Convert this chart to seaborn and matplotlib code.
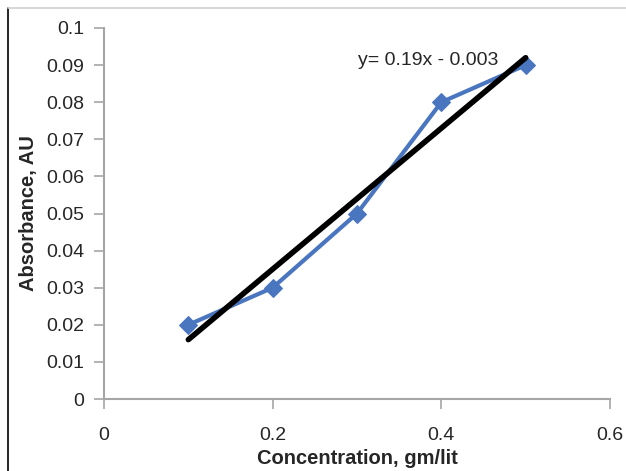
import matplotlib
matplotlib.use("Agg")
import matplotlib.pyplot as plt
import seaborn as sns
import numpy as np
import pandas as pd
from matplotlib.lines import Line2D

concentration = [0.1, 0.2, 0.3, 0.4, 0.5]
absorbance = [0.02, 0.03, 0.05, 0.08, 0.09]
slope = 0.19
intercept = -0.003
equation_label = "y= 0.19x - 0.003"
x_ticks = [0, 0.2, 0.4, 0.6]
y_ticks = [0, 0.01, 0.02, 0.03, 0.04, 0.05, 0.06, 0.07, 0.08, 0.09, 0.1]

sns.set_style("white")
plt.rcParams['font.family'] = ['Liberation Sans', 'DejaVu Sans']

fig = plt.figure(figsize=(6.26, 4.71), dpi=100)
ax = fig.add_axes([104/626, 1-399/471, 506/626, 371/471])

df = pd.DataFrame({"x": concentration, "y": absorbance})
sns.lineplot(data=df, x="x", y="y", ax=ax, color="#4a76c0", linewidth=3,
             marker="D", markersize=9, markeredgecolor="#4a76c0")

trend_x = np.array([concentration[0], concentration[-1]])
trend_y = slope * trend_x + intercept
ax.plot(trend_x, trend_y, color="black", linewidth=4, solid_capstyle="round")

ax.text(0.301, 0.0912, equation_label, fontsize=14, ha="left", va="center")

ax.set_xlim(0, 0.6)
ax.set_ylim(0, 0.1)
ax.set_xticks(x_ticks)
ax.set_xticklabels(["0", "0.2", "0.4", "0.6"])
ax.set_yticks(y_ticks)
ax.set_yticklabels(["0", "0.01", "0.02", "0.03", "0.04", "0.05", "0.06", "0.07", "0.08", "0.09", "0.1"])

for s in ["top", "right"]:
    ax.spines[s].set_visible(False)
for s in ["left", "bottom"]:
    ax.spines[s].set_color("#a6a6a6")
    ax.spines[s].set_linewidth(1.5)
ax.tick_params(axis="both", which="major", direction="out", length=7, width=1.2,
               color="#a6a6a6", labelsize=14, pad=7, left=True, bottom=True)
ax.tick_params(axis="x", pad=13)

ax.set_xlabel("Concentration, gm/lit", fontsize=14.5, fontweight="bold", labelpad=3.5)
ax.set_ylabel("Absorbance, AU", fontsize=14.5, fontweight="bold", labelpad=6)

fig.add_artist(Line2D([8/626, 8/626], [0, 1-8/471], transform=fig.transFigure, color="black", linewidth=1.2))
fig.add_artist(Line2D([8/626, 1], [1-8/471, 1-8/471], transform=fig.transFigure, color="#d0d0d0", linewidth=1.2))

fig.savefig("out.png", dpi=100)
